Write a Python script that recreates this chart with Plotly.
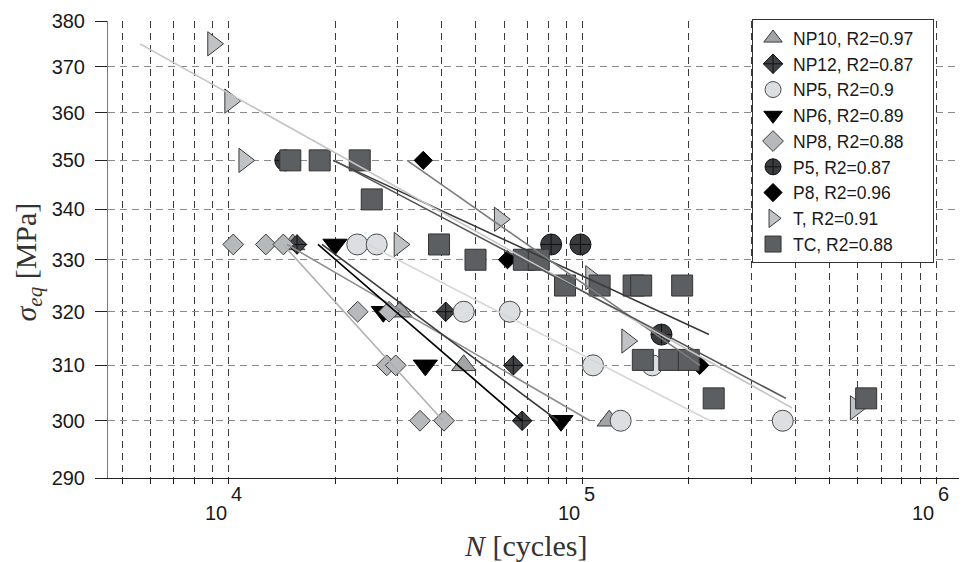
import math
import plotly.graph_objects as go

# ---------------- data ----------------
series = ["NP10", "NP12", "NP5", "NP6", "NP8", "P5", "P8", "T", "TC"]
r2 = ["0.97", "0.87", "0.9", "0.89", "0.88", "0.87", "0.96", "0.91", "0.88"]

NP10_N = [15170, 30500, 46160, 119000]
NP10_S = [333, 320, 310, 300]
NP12_N = [15600, 41050, 63740, 67530]
NP12_S = [333, 320, 310, 300]
NP5_N = [23090, 26200, 46160, 62260, 107100, 157500, 128200, 368200]
NP5_S = [333, 333, 320, 320, 310, 310, 300, 300]
NP6_N = [19970, 27350, 35950, 86950]
NP6_S = [333, 320, 310, 300]
NP8_N = [10300, 12730, 14270, 23150, 28390, 27970, 29650, 34730, 40610]
NP8_S = [333, 333, 333, 320, 320, 310, 310, 300, 300]
P5_N = [14450, 81550, 98700, 167200]
P5_S = [350, 333, 333, 315.7]
P8_N = [35480, 61380, 214500]
P8_S = [350, 330, 310]
T_N = [9030, 10090, 11060, 30380, 58340, 133700, 105700, 591800]
T_S = [375, 362.5, 350, 333, 338, 314.5, 326.5, 302.3]
TC_N = [14930, 18080, 23460, 25370, 39310, 49840, 68260, 75240, 89230, 111800,
        139500, 146500, 191300, 148100, 176000, 199700, 234900, 633600]
TC_S = [350, 350, 350, 342, 333, 330, 330, 330, 325, 325,
        325, 325, 325, 311, 311, 311, 304, 304]

# fitted lines (end points)
FIT_N = {
    "NP10": [14620, 105000], "NP12": [18350, 85250], "NP5": [24760, 229300],
    "NP6": [17880, 67450], "NP8": [14240, 40350], "P5": [19710, 227800],
    "P8": [31910, 214900], "T": [5615, 391000], "TC": [19840, 375800],
}
FIT_S = {
    "NP10": [333, 300], "NP12": [333, 300], "NP5": [333, 300],
    "NP6": [333, 300], "NP8": [333, 300], "P5": [350, 315.7],
    "P8": [350, 310], "T": [375, 302.3], "TC": [350, 304],
}

y_ticks = [290, 300, 310, 320, 330, 340, 350, 360, 370, 380]
x_grid = [m * 10 ** e for e in (3, 4, 5) for m in range(1, 10)] + [1e6]
x_grid = [v for v in x_grid if v >= 5000]
decades = [1e4, 1e5, 1e6]
exponents = ["4", "5", "6"]

# ---------------- styles ----------------
data = {
    "NP10": (NP10_N, NP10_S), "NP12": (NP12_N, NP12_S), "NP5": (NP5_N, NP5_S),
    "NP6": (NP6_N, NP6_S), "NP8": (NP8_N, NP8_S), "P5": (P5_N, P5_S),
    "P8": (P8_N, P8_S), "T": (T_N, T_S), "TC": (TC_N, TC_S),
}
style = {
    "NP10": dict(symbol="triangle-up", size=21, color="#a2a5a8", line="#3a3a3a"),
    "NP12": dict(symbol="diamond-cross", size=15, color="#404346", line="#111111"),
    "NP5": dict(symbol="circle", size=21, color="#dcdfe2", line="#4a4a4a"),
    "NP6": dict(symbol="triangle-down", size=21, color="#000000", line="#000000"),
    "NP8": dict(symbol="diamond", size=16, color="#b6b9bc", line="#3a3a3a"),
    "P5": dict(symbol="circle-cross", size=21, color="#393c3f", line="#111111"),
    "P8": dict(symbol="diamond", size=14, color="#000000", line="#000000"),
    "T": dict(symbol="triangle-right", size=21, color="#c0c3c6", line="#3a3a3a"),
    "TC": dict(symbol="square", size=21, color="#5c5f62", line="#333333"),
}
line_color = {
    "NP10": "#8e8e8e", "NP12": "#3c3c3c", "NP5": "#d6d6d6", "NP6": "#000000",
    "NP8": "#b0b0b0", "P5": "#3a3a3a", "P8": "#7c7c7c", "T": "#c4c4c4", "TC": "#555555",
}

PAD = "\u00a0\u00a0\u00a0"  # trailing space to widen the legend box like the reference

fig = go.Figure()
for name, r in zip(series, r2):
    N, S = data[name]
    st = style[name]
    fig.add_trace(go.Scatter(
        x=N, y=S, mode="markers", name=f"{name}, R2={r}{PAD}",
        marker=dict(symbol=st["symbol"], size=st["size"], color=st["color"],
                    line=dict(color=st["line"], width=1)),
    ))
for name in series:
    fig.add_trace(go.Scatter(
        x=FIT_N[name], y=FIT_S[name], mode="lines", showlegend=False,
        line=dict(color=line_color[name], width=1.6), hoverinfo="skip",
    ))

tick_font = dict(family="Liberation Sans, Arial, sans-serif", size=20, color="#1a1a1a")

annotations = []
for d, e in zip(decades, exponents):
    lx = math.log10(d)
    annotations.append(dict(x=lx, xref="x", y=0, yref="paper", text="10",
                            xanchor="right", yanchor="middle", yshift=-35,
                            showarrow=False, font=tick_font))
    annotations.append(dict(x=lx, xref="x", y=0, yref="paper", text=e,
                            xanchor="left", yanchor="middle", yshift=-16,
                            showarrow=False, font=tick_font))
annotations.append(dict(
    x=0.4872, xref="paper", y=-0.1478, yref="paper", yanchor="middle", xanchor="center",
    text="<i>N</i> [cycles]", showarrow=False,
    font=dict(family="Liberation Serif, Times New Roman, serif", size=30, color="#333333")))
annotations.append(dict(
    x=0, xref="paper", xshift=-80, y=0.4717, yref="paper", xanchor="center", yanchor="middle",
    text="<i>σ</i><sub><i>eq</i></sub> [MPa]", textangle=-90, showarrow=False,
    font=dict(family="Liberation Serif, Times New Roman, serif", size=30, color="#333333")))

# the page adds an 8 px body margin, so the figure is 8 px smaller and margins shifted
fig.update_layout(
    width=959, height=554,
    margin=dict(l=100, r=2, t=10, b=84),
    paper_bgcolor="white", plot_bgcolor="white",
    font=dict(family="Liberation Sans, Arial, sans-serif", color="#1a1a1a"),
    showlegend=True,
    legend=dict(x=0.7515, y=1.004, xanchor="left", yanchor="top",
                bgcolor="white", bordercolor="#333333", borderwidth=1,
                font=dict(size=17.5, family="Liberation Sans, Arial, sans-serif", color="#1a1a1a"),
                tracegroupgap=0, itemwidth=30),
    annotations=annotations,
)
fig.update_xaxes(
    type="log", range=[3.6588, 6.0812],
    tickmode="array", tickvals=x_grid, showticklabels=False,
    ticks="outside", ticklen=5, tickcolor="#222222",
    showgrid=True, gridcolor="#3a3a3a", griddash="7px,5px", gridwidth=1,
    showline=True, linecolor="#222222", linewidth=1, zeroline=False,
)
fig.update_yaxes(
    type="log", range=[2.462398, 2.57990],
    tickmode="array", tickvals=y_ticks, ticktext=[str(v) for v in y_ticks],
    tickfont=tick_font, ticks="outside", ticklen=12, tickcolor="#222222",
    ticklabelstandoff=6, ticklabeloverflow="allow",
    showgrid=True, gridcolor="#8a8a8a", griddash="7px,5px", gridwidth=1,
    showline=True, linecolor="#7a7a7a", linewidth=1, zeroline=False,
)

fig.write_html("out.html")
